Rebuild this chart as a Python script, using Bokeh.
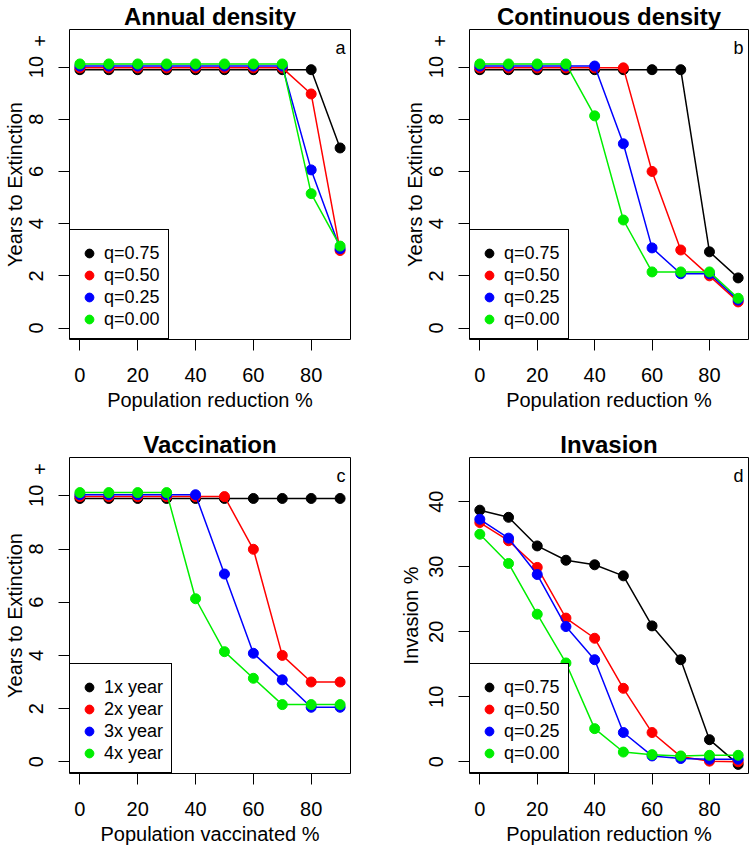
from bokeh.plotting import figure
from bokeh.models import FixedTicker, Label, Legend, LegendItem, Range1d, LinearAxis, Title
from bokeh.layouts import row, column
from bokeh.embed import file_html
from bokeh.resources import INLINE

# ---------------- data ----------------
x_vals = [0, 10, 20, 30, 40, 50, 60, 70, 80, 90]
x_ticks = [0, 20, 40, 60, 80]
years_ticks = [0, 2, 4, 6, 8, 10]
years_top_tick = 11
years_top_label = "+"
invasion_ticks = [0, 10, 20, 30, 40]

q_labels = ["q=0.75", "q=0.50", "q=0.25", "q=0.00"]
vacc_labels = ["1x year", "2x year", "3x year", "4x year"]

annual_q075 = [9.9, 9.9, 9.9, 9.9, 9.9, 9.9, 9.9, 9.9, 9.9, 6.9]
annual_q050 = [9.97, 9.97, 9.97, 9.97, 9.97, 9.97, 9.97, 9.97, 8.97, 2.97]
annual_q025 = [10.04, 10.04, 10.04, 10.04, 10.04, 10.04, 10.04, 10.04, 6.06, 3.04]
annual_q000 = [10.12, 10.12, 10.12, 10.12, 10.12, 10.12, 10.12, 10.12, 5.15, 3.14]

continuous_q075 = [9.9, 9.9, 9.9, 9.9, 9.9, 9.9, 9.9, 9.9, 2.92, 1.92]
continuous_q050 = [9.97, 9.97, 9.97, 9.97, 9.97, 9.97, 6.0, 2.99, 2.0, 1.0]
continuous_q025 = [10.04, 10.04, 10.04, 10.04, 10.04, 7.06, 3.07, 2.08, 2.08, 1.07]
continuous_q000 = [10.12, 10.12, 10.12, 10.12, 8.13, 4.14, 2.15, 2.15, 2.15, 1.14]

vacc_1x = [9.9, 9.9, 9.9, 9.9, 9.9, 9.9, 9.9, 9.9, 9.9, 9.9]
vacc_2x = [9.97, 9.97, 9.97, 9.97, 9.97, 9.97, 7.99, 4.0, 3.0, 3.0]
vacc_3x = [10.04, 10.04, 10.04, 10.04, 10.04, 7.06, 4.08, 3.08, 2.05, 2.05]
vacc_4x = [10.12, 10.12, 10.12, 10.12, 6.13, 4.14, 3.14, 2.15, 2.15, 2.15]

invasion_q075 = [38.7, 37.6, 33.2, 31.0, 30.3, 28.6, 20.9, 15.7, 3.4, -0.4]
invasion_q050 = [36.8, 34.0, 29.9, 22.1, 19.0, 11.3, 4.5, 0.8, 0.1, 0.0]
invasion_q025 = [37.3, 34.4, 28.8, 20.8, 15.7, 4.5, 0.9, 0.5, 0.4, 0.4]
invasion_q000 = [35.0, 30.5, 22.7, 15.2, 5.1, 1.5, 1.1, 0.9, 1.0, 1.0]

# ---------------- style ----------------
FONT = "Liberation Sans"
COLORS = ["black", "#FF0000", "#0000FF", "#00EE00"]
X_RANGE = (-3.6, 93.6)
YEARS_RANGE = (-0.44, 11.44)
INV_RANGE = (-1.8, 46.8)


def style_text_axis(ax):
    ax.axis_line_color = None
    ax.minor_tick_line_color = None
    ax.major_label_text_font = FONT
    ax.major_label_text_font_size = "20px"
    ax.major_label_text_color = "black"
    ax.axis_label_text_font = FONT
    ax.axis_label_text_font_size = "20px"
    ax.axis_label_text_font_style = "normal"
    ax.axis_label_text_color = "black"


def make_panel(title, tag, xlabel, ylabel, series, labels, yr, yticks, plus,
               width, height, bl, br, bt, bb):
    p = figure(width=width, height=height, output_backend="svg",
               toolbar_location=None,
               x_range=Range1d(*X_RANGE), y_range=Range1d(*yr),
               min_border_left=bl, min_border_right=br,
               min_border_top=bt, min_border_bottom=bb)
    p.title = Title(text=title, align="center", text_font=FONT,
                    text_font_size="24px", text_font_style="bold",
                    text_color="black", standoff=0)
    p.grid.visible = False
    p.outline_line_color = "black"
    p.outline_line_width = 1
    p.outline_line_alpha = 1
    p.background_fill_color = "white"
    p.border_fill_color = "white"

    # x axis
    xa = p.xaxis[0]
    style_text_axis(xa)
    xa.ticker = FixedTicker(ticks=x_ticks)
    xa.major_tick_in = 0
    xa.major_tick_out = 11
    xa.major_tick_line_color = "black"
    xa.major_label_standoff = 17
    xa.axis_label = xlabel
    xa.axis_label_standoff = 4

    # y axis with tick marks and numeric labels
    ya = p.yaxis[0]
    style_text_axis(ya)
    ya.ticker = FixedTicker(ticks=yticks)
    ya.major_tick_in = 0
    ya.major_tick_out = 11
    ya.major_tick_line_color = "black"
    ya.major_label_orientation = "vertical"
    ya.major_label_standoff = 15

    if plus:
        # outer axis: the untickmarked "+" label pulled back into the
        # label column, and the axis title
        ly = LinearAxis(ticker=FixedTicker(ticks=[years_top_tick]),
                        major_label_overrides={years_top_tick: years_top_label})
        style_text_axis(ly)
        ly.major_tick_line_color = None
        ly.major_tick_in = 0
        ly.major_tick_out = 0
        ly.major_label_orientation = "vertical"
        ly.major_label_standoff = -21
        ly.axis_label = ylabel
        ly.axis_label_standoff = 5
        p.add_layout(ly, "left")
    else:
        ya.axis_label = ylabel
        ya.axis_label_standoff = 5

    pts = []
    for ys, c in zip(series, COLORS):
        p.line(x_vals, ys, line_color=c, line_width=1.5)
        r = p.scatter(x_vals, ys, size=10, marker="circle",
                      fill_color=c, line_color=c)
        pts.append(r)

    items = [LegendItem(label=lab, renderers=[r]) for lab, r in zip(labels, pts)]
    leg = Legend(items=items, location="bottom_left", margin=0, padding=8,
                 spacing=0, glyph_width=22, glyph_height=22, label_height=22,
                 label_standoff=4, label_text_font=FONT,
                 label_text_font_size="18px", label_text_color="black",
                 border_line_color="black", border_line_width=1,
                 border_line_alpha=1, background_fill_color="white",
                 background_fill_alpha=1, title=" ",
                 title_text_font_size="2px", title_standoff=2)
    p.add_layout(leg)

    p.add_layout(Label(x=X_RANGE[1], y=yr[1], x_offset=-5, y_offset=-18,
                       text=tag, text_align="right", text_baseline="alphabetic",
                       text_font=FONT, text_font_size="18px",
                       text_color="black"))
    return p


pa = make_panel("Annual density", "a", "Population reduction %", "Years to Extinction",
                [annual_q075, annual_q050, annual_q025, annual_q000], q_labels,
                YEARS_RANGE, years_ticks, True, 375, 423, 69, 25, 22, 84)
pb = make_panel("Continuous density", "b", "Population reduction %", "Years to Extinction",
                [continuous_q075, continuous_q050, continuous_q025, continuous_q000], q_labels,
                YEARS_RANGE, years_ticks, True, 375, 423, 94, 2, 22, 84)
pc = make_panel("Vaccination", "c", "Population vaccinated %", "Years to Extinction",
                [vacc_1x, vacc_2x, vacc_3x, vacc_4x], vacc_labels,
                YEARS_RANGE, years_ticks, True, 375, 424, 69, 25, 34, 74)
pd_ = make_panel("Invasion", "d", "Population reduction %", "Invasion %",
                 [invasion_q075, invasion_q050, invasion_q025, invasion_q000], q_labels,
                 INV_RANGE, invasion_ticks, False, 375, 424, 94, 2, 34, 74)

layout = column(row(pa, pb), row(pc, pd_))

with open("out.html", "w") as f:
    f.write(file_html(layout, INLINE))
